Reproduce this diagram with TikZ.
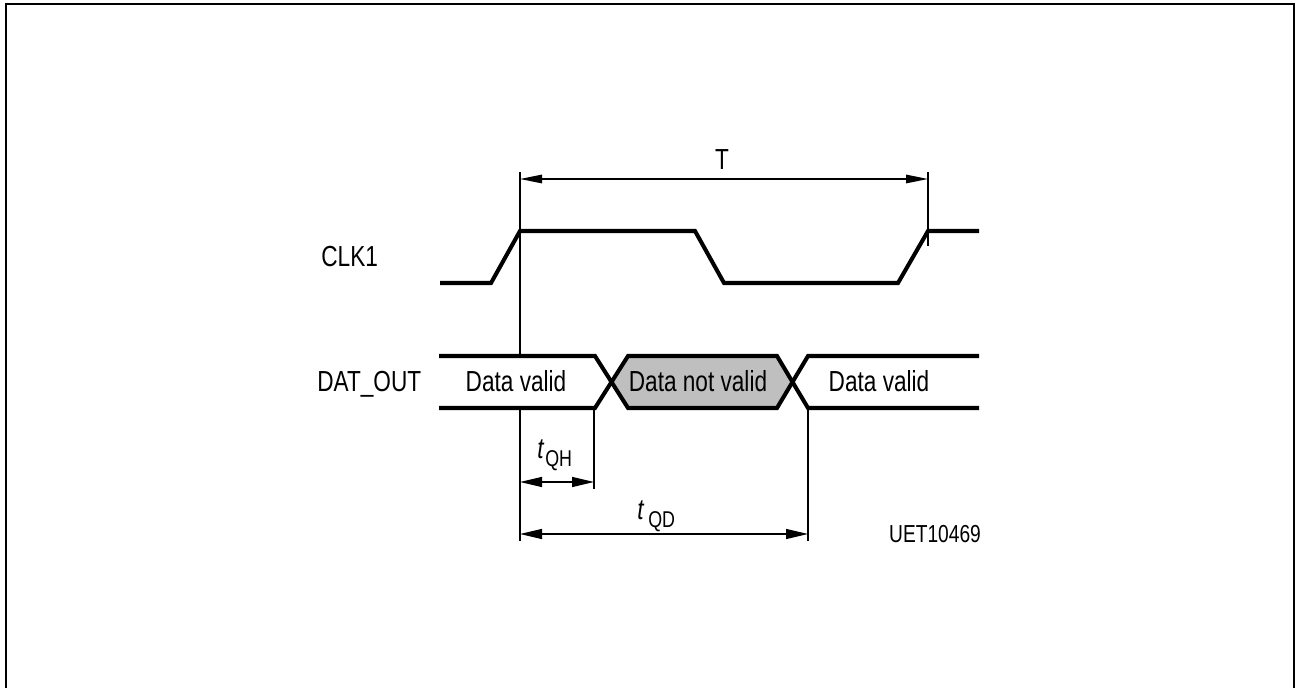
\documentclass[tikz,border=0pt]{standalone}
\usepackage{fontspec}
\setmainfont{Liberation Sans}[FakeStretch=0.78]
\usetikzlibrary{arrows.meta,positioning}

\begin{document}
\begin{tikzpicture}[
        x=0.02cm, y=-0.02cm,
        >={Triangle[length=0.44cm,width=0.2cm]},
        signal/.style={line width=2.3pt, line join=miter},
        dim/.style={line width=0.8pt},
        lbl/.style={font=\fontsize{16.5}{18}\selectfont, inner sep=0pt},
        small/.style={font=\fontsize{13}{15}\selectfont, inner sep=0pt}
    ]
        \useasboundingbox (0,0) rectangle (1297,688);
        \draw[line width=1.1pt] (6,4) rectangle (1294,700);

        % clock
        \coordinate (rise1) at (520,231);
        \coordinate (rise2) at (928,231);
        \draw[signal] (440,283) -- (491,283) -- (rise1) -- (695,231) -- (724,283)
            -- (898,283) -- (rise2) -- (979,231);

        % data out
        \fill[gray!50] (611,382) -- (628,356) -- (777,356) -- (792,382)
            -- (777,408) -- (628,408) -- cycle;
        \draw[signal] (439,356) -- (595,356) -- (628,408) -- (777,408) -- (808,356) -- (979,356);
        \draw[signal] (439,408) -- (595,408) -- (628,356) -- (777,356) -- (808,408) -- (979,408);

        % reference lines
        \coordinate (refA) at (520,172);
        \coordinate (refAmid) at (520,356);
        \coordinate (refAlow) at (520,408);
        \coordinate (refAend) at (520,541);
        \coordinate (refB) at (928,172);
        \coordinate (refBend) at (928,246);
        \coordinate (hold) at (594,408);
        \coordinate (holdend) at (594,489);
        \coordinate (delay) at (808,408);
        \coordinate (delayend) at (808,541);
        \draw[dim] (refA) -- (refAmid);
        \draw[dim] (refAlow) -- (refAend);
        \draw[dim] (refB) -- (refBend);
        \draw[dim] (hold) -- (holdend);
        \draw[dim] (delay) -- (delayend);

        % dimensions
        \coordinate (tL) at (520,179);
        \coordinate (tR) at (928,179);
        \coordinate (qhL) at (520,482);
        \coordinate (qhR) at (594,482);
        \coordinate (qdL) at (520,534);
        \coordinate (qdR) at (808,534);
        \draw[dim, <->, >={Triangle[length=0.44cm,width=0.17cm]}] (tL) -- (tR);
        \draw[dim, <->] (qhL) -- (qhR);
        \draw[dim, <->] (qdL) -- (qdR);

        % labels
        \node[lbl, anchor=base] (per) at (722,170) {T};
        \node[lbl, anchor=base west] (clk) at (321,267) {CLK1};
        \node[lbl, anchor=base west] (dat) at (317,392) {DAT\_OUT};
        \node[lbl, anchor=base] (valid1) at (516,392) {Data valid};
        \node[lbl, anchor=base] (invalid) at (698,392) {Data not valid};
        \node[lbl, anchor=base] (valid2) at (879,392) {Data valid};
        \node[lbl, anchor=base west] (tqh) at (537,459) {\textit{t}};
        \node[small, anchor=base west] (tqhsub) at (545,467) {QH};
        \node[lbl, anchor=base west] (tqd) at (637,520) {\textit{t}};
        \node[small, anchor=base west] (tqdsub) at (648,527) {QD};
        \node[small, font=\fontsize{14}{16}\selectfont, anchor=base] (fig) at (935,542) {UET10469};
\end{tikzpicture}
\end{document}
